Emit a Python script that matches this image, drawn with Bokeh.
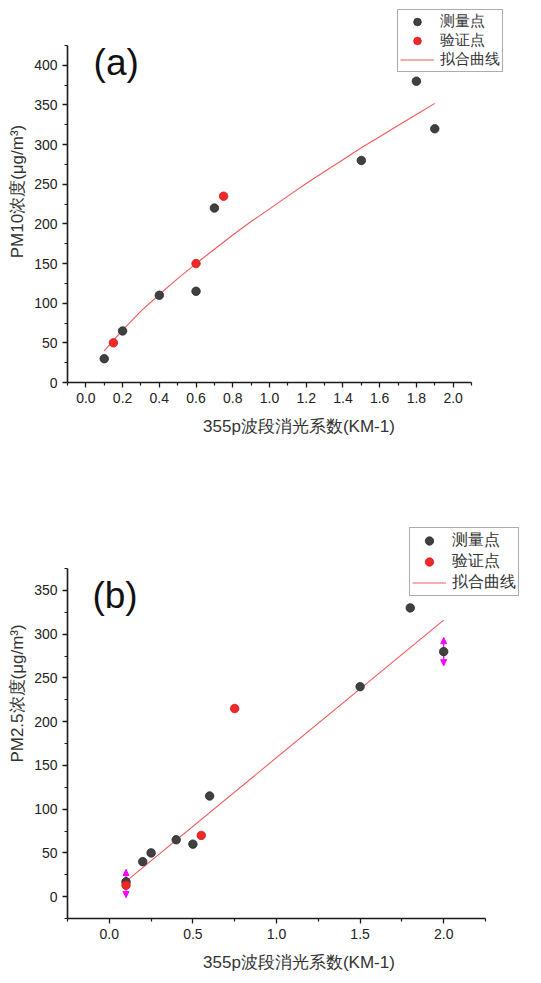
from bokeh.plotting import figure
from bokeh.models import (Range1d, FixedTicker, Label, Legend, LegendItem,
                          ColumnDataSource, Whisker, NormalHead)
from bokeh.embed import file_html
from bokeh.resources import INLINE

# ---------------- data (a) PM10 ----------------
a_meas_x = [0.1, 0.2, 0.4, 0.6, 0.7, 1.5, 1.8, 1.9]
a_meas_y = [30, 65, 110, 115, 220, 280, 380, 320]
a_val_x = [0.15, 0.6, 0.75]
a_val_y = [50, 150, 235]
a_fit_x = [0.1, 0.2, 0.3, 0.4, 0.5, 0.6, 0.7, 0.8, 0.9, 1.0,
           1.1, 1.2, 1.3, 1.4, 1.5, 1.6, 1.7, 1.8, 1.9]
a_fit_y = [40, 66, 90, 111, 131, 150, 168, 186, 203, 219,
           235, 251, 266, 281, 296, 310, 324, 338, 352]
a_xticks = [0.0, 0.2, 0.4, 0.6, 0.8, 1.0, 1.2, 1.4, 1.6, 1.8, 2.0]
a_xtick_labels = ["0.0", "0.2", "0.4", "0.6", "0.8", "1.0", "1.2", "1.4", "1.6", "1.8", "2.0"]
a_xminor = [-0.1, 0.1, 0.3, 0.5, 0.7, 0.9, 1.1, 1.3, 1.5, 1.7, 1.9, 2.1]
a_yticks = [0, 50, 100, 150, 200, 250, 300, 350, 400]
a_yminor = [25, 75, 125, 175, 225, 275, 325, 375, 425]
a_xaxis_span = (-0.1, 2.1)
a_yaxis_span = (0, 425)

# ---------------- data (b) PM2.5 ----------------
b_meas_x = [0.1, 0.2, 0.25, 0.4, 0.5, 0.6, 1.5, 1.8, 2.0]
b_meas_y = [17, 40, 50, 65, 60, 115, 240, 330, 280]
b_val_x = [0.1, 0.55, 0.75]
b_val_y = [13, 70, 215]
b_fit_x = [0.1, 2.0]
b_fit_y = [17.5, 316]
b_err_x = [0.1, 2.0]
b_err_y = [15, 280]
b_err_half = [16, 16]
b_xticks = [0.0, 0.5, 1.0, 1.5, 2.0]
b_xtick_labels = ["0.0", "0.5", "1.0", "1.5", "2.0"]
b_xminor = [-0.25, 0.25, 0.75, 1.25, 1.75, 2.25]
b_yticks = [0, 50, 100, 150, 200, 250, 300, 350]
b_yminor = [-25, 25, 75, 125, 175, 225, 275, 325, 375]
b_xaxis_span = (-0.25, 2.25)
b_yaxis_span = (-25, 375)

legend_labels = ["测量点", "验证点", "拟合曲线"]
x_label = "355p波段消光系数(KM-1)"

BLACK_FILL = "#404040"
BLACK_LINE = "#2a2a2a"
RED_FILL = "#f02828"
RED_LINE = "#d41c1c"
FIT_COLOR = "#f25a5a"
LATIN = "Liberation Sans"


def make_fig(width, height, border_left, border_bottom,
             frame_h, xspan, yspan, axis_w, axis_h):
    # the frame fills the figure's top and right (room for the legend);
    # the axes themselves are bounded to their spans
    frame_w = width - border_left
    xpx = axis_w / (xspan[1] - xspan[0])
    ypx = axis_h / (yspan[1] - yspan[0])
    x_end = xspan[0] + frame_w / xpx
    y_end = yspan[0] + frame_h / ypx
    p = figure(width=width, height=height, output_backend="svg", toolbar_location=None,
               x_range=Range1d(xspan[0], x_end), y_range=Range1d(yspan[0], y_end),
               min_border_left=border_left, min_border_top=0,
               min_border_bottom=border_bottom, min_border_right=0)
    p.xaxis.bounds = xspan
    p.yaxis.bounds = yspan
    return p


def style_axes(p, xticks, xlabels, xminor, yticks, yminor, ylabel):
    p.xaxis.ticker = FixedTicker(ticks=xticks, minor_ticks=xminor)
    p.xaxis.major_label_overrides = {t: l for t, l in zip(xticks, xlabels)}
    p.yaxis.ticker = FixedTicker(ticks=yticks, minor_ticks=yminor)
    p.yaxis.major_label_overrides = {t: str(t) for t in yticks}
    for ax in (p.xaxis[0], p.yaxis[0]):
        ax.axis_line_color = "#1a1a1a"
        ax.axis_line_width = 1.6
        ax.major_tick_line_color = "#1a1a1a"
        ax.major_tick_line_width = 1.3
        ax.minor_tick_line_color = "#1a1a1a"
        ax.minor_tick_line_width = 1.2
        ax.major_tick_in = 0
        ax.major_tick_out = 5
        ax.minor_tick_in = 0
        ax.minor_tick_out = 3
        ax.major_label_text_font = LATIN
        ax.major_label_text_font_size = "14px"
        ax.major_label_text_color = "#222222"
        ax.major_label_standoff = 5
        ax.axis_label_text_font = LATIN
        ax.axis_label_text_font_size = "17px"
        ax.axis_label_text_font_style = "normal"
        ax.axis_label_text_color = "#333333"
    p.xaxis.axis_label = x_label
    p.xaxis.axis_label_standoff = 11
    p.yaxis.axis_label = ylabel
    p.yaxis.axis_label_standoff = 4
    p.xgrid.visible = False
    p.ygrid.visible = False
    p.outline_line_color = None


def add_points(p, mx, my, vx, vy, fx, fy):
    fit = p.line(fx, fy, line_color=FIT_COLOR, line_width=1.1)
    meas = p.scatter(mx, my, size=8.5, fill_color=BLACK_FILL, line_color=BLACK_LINE, line_width=0.8)
    val = p.scatter(vx, vy, size=8.5, fill_color=RED_FILL, line_color=RED_LINE, line_width=0.8)
    return meas, val, fit


def add_legend(p, meas, val, fit, loc, label_h, font_size):
    leg = Legend(items=[LegendItem(label=legend_labels[0], renderers=[meas]),
                        LegendItem(label=legend_labels[1], renderers=[val]),
                        LegendItem(label=legend_labels[2], renderers=[fit])],
                 location=loc)
    leg.glyph_width = 34
    leg.glyph_height = label_h
    leg.label_height = label_h
    leg.label_standoff = 6
    leg.spacing = 0
    leg.padding = 2
    leg.margin = 0
    leg.label_text_font = LATIN
    leg.label_text_font_size = font_size
    leg.label_text_color = "#333333"
    leg.border_line_color = "#5a5a5a"
    leg.border_line_width = 1.2
    leg.background_fill_color = "white"
    leg.background_fill_alpha = 1
    p.add_layout(leg, "center")


# ---------------- figure (a) ----------------
pa = make_fig(530, 468, 67, 86, 382, a_xaxis_span, a_yaxis_span, 404, 337)
style_axes(pa, a_xticks, a_xtick_labels, a_xminor, a_yticks, a_yminor, "PM10浓度(μg/m³)")
m, v, f = add_points(pa, a_meas_x, a_meas_y, a_val_x, a_val_y, a_fit_x, a_fit_y)
add_legend(pa, m, v, f, (330, 310), 19, "15px")
pa.add_layout(Label(x=0.042, y=403, text="(a)", text_font=LATIN, text_font_size="37px",
                    text_color="#111111", text_baseline="middle", text_align="left"))

# ---------------- figure (b) ----------------
pb = make_fig(530, 510, 67, 60, 450, b_xaxis_span, b_yaxis_span, 418, 350)
style_axes(pb, b_xticks, b_xtick_labels, b_xminor, b_yticks, b_yminor, "PM2.5浓度(μg/m³)")
err_src = ColumnDataSource(dict(x=b_err_x,
                                lo=[y - h for y, h in zip(b_err_y, b_err_half)],
                                hi=[y + h for y, h in zip(b_err_y, b_err_half)]))
m, v, f = add_points(pb, b_meas_x, b_meas_y, b_val_x, b_val_y, b_fit_x, b_fit_y)
wh = Whisker(source=err_src, base="x", lower="lo", upper="hi", dimension="height",
             line_color="#ff00ff", line_width=1.2,
             upper_head=NormalHead(size=6, fill_color="#ff00ff", line_color="#ff00ff"),
             lower_head=NormalHead(size=6, fill_color="#ff00ff", line_color="#ff00ff"))
pb.add_layout(wh)
add_legend(pb, m, v, f, (342, 322), 21, "15.5px")
pb.add_layout(Label(x=-0.101, y=344, text="(b)", text_font=LATIN, text_font_size="37px",
                    text_color="#111111", text_baseline="middle", text_align="left"))

open("out.html", "w").write(file_html([pa, pb], INLINE))
